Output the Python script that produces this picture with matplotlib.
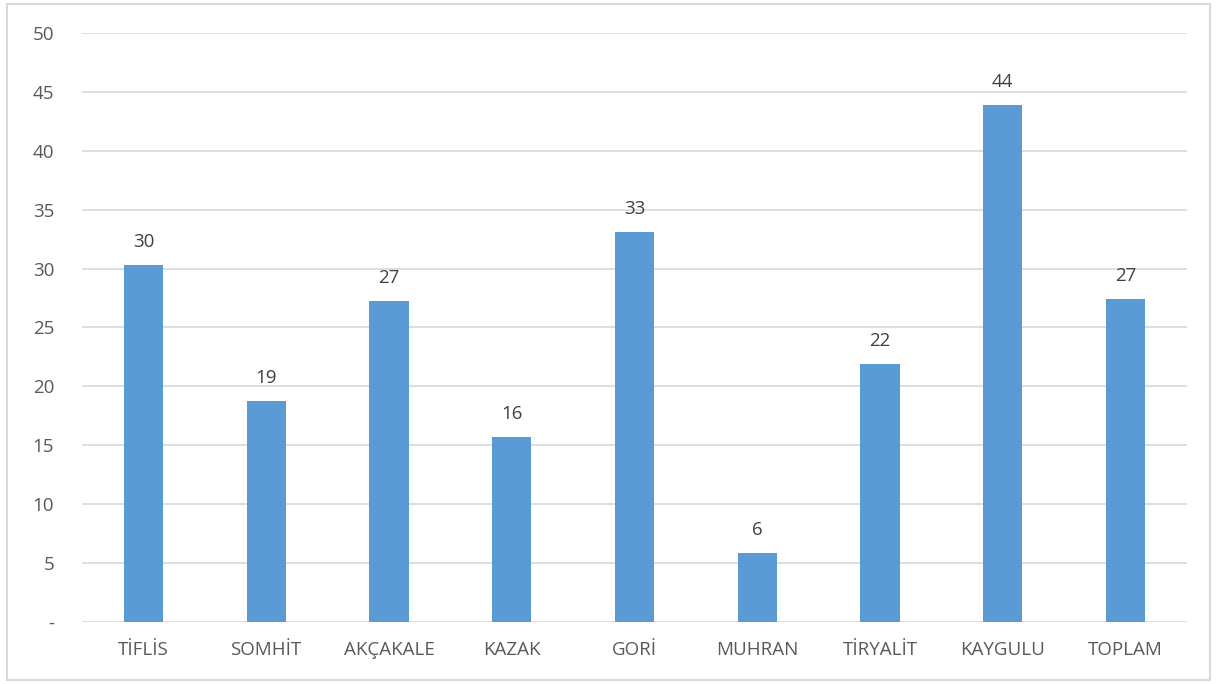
import matplotlib.pyplot as plt
from matplotlib.patches import Rectangle

categories = ["TİFLİS", "SOMHİT", "AKÇAKALE", "KAZAK", "GORİ",
              "MUHRAN", "TİRYALİT", "KAYGULU", "TOPLAM"]
values = [30.3, 18.75, 27.25, 15.7, 33.1, 5.85, 21.9, 43.9, 27.4]
yticks = [0, 5, 10, 15, 20, 25, 30, 35, 40, 45, 50]
ytick_labels = ["-", "5", "10", "15", "20", "25", "30", "35", "40", "45", "50"]

plt.rcParams["font.family"] = ["Open Sans", "DejaVu Sans"]
text_color = "#595959"

fig = plt.figure(figsize=(12.17, 6.84), dpi=100)
ax = fig.add_axes([0.0674, 0.0906, 0.9079, 0.8612])

x = range(len(categories))
ax.bar(x, values, width=0.32, color="#5B9BD5", zorder=3)

for xi, v in zip(x, values):
    ax.text(xi, v + 1.2, f"{v:.0f}", ha="center", va="bottom",
            fontsize=13.5, color="#404040")

ax.set_xlim(-0.5, len(categories) - 0.5)
ax.set_ylim(0, 50)
ax.set_yticks(yticks)
ax.set_yticklabels(ytick_labels)
ax.set_xticks(list(x))
ax.set_xticklabels(categories)
ax.tick_params(axis="both", length=0, labelsize=13.5, colors=text_color)
ax.tick_params(axis="y", pad=20)
ax.tick_params(axis="x", pad=14)

ax.grid(axis="y", color="#D9D9D9", lw=1.2, zorder=0)
for s in ax.spines.values():
    s.set_visible(False)

fig.patches.append(Rectangle((0.006, 0.006), 0.988, 0.988, transform=fig.transFigure,
                             fill=False, edgecolor="#D9D9D9", lw=1.5))

fig.savefig("out.png", dpi=100)
